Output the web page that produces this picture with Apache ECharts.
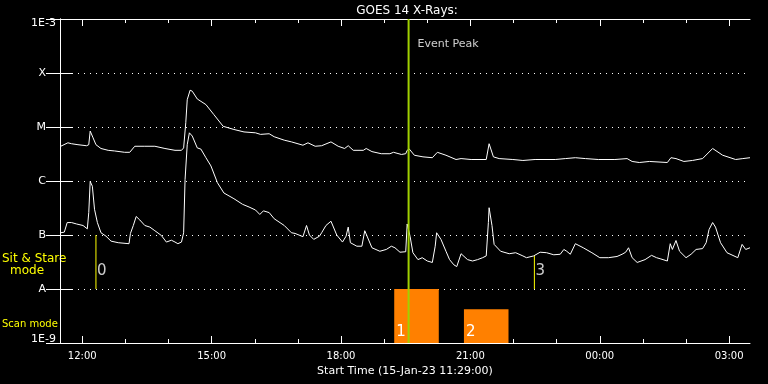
<!DOCTYPE html>
<html><head><meta charset="utf-8">
<script src="https://cdn.jsdelivr.net/npm/echarts@6/dist/echarts.min.js"></script>
<style>html,body{margin:0;padding:0;background:#000}#c{width:768px;height:384px}</style>
</head><body><div id="c"></div>
<script>
const titleText = 'GOES 14 X-Rays:';
const xAxisTitle = 'Start Time (15-Jan-23 11:29:00)';
const startMinute = 689; // 11:29 on 15-Jan-23; times below are minutes since start

const majorTickTimes = [31, 211, 391, 571, 751, 931];
const majorTickLabels = ['12:00', '15:00', '18:00', '21:00', '00:00', '03:00'];
const minorTickTimes = [31, 91, 151, 211, 271, 331, 391, 451, 511, 571, 631, 691, 751, 811, 871, 931];
const yTickLabels = ['1E-9', 'A', 'B', 'C', 'M', 'X', '1E-3'];

// GOES long channel (upper curve), flux W/m^2
const upperTimes = [1,11,16,25,37,40,42,46,50,57,
  67,76,90,97,104,118,132,146,160,169,
  172,175,177,181,184,191,203,214,227,242,
  256,272,279,291,298,312,322,338,345,355,
  364,377,387,396,401,408,422,426,434,447,
  459,464,475,481,483,486,493,505,518,525,
  537,551,558,572,593,597,603,611,630,644,
  661,689,703,717,731,749,772,789,796,806,
  820,845,850,857,868,880,894,908,922,940,
  950,960];
const upperFlux = [4.4e-6,5.1e-6,4.9e-6,4.7e-6,4.5e-6,4.7e-6,8.4e-6,6.3e-6,4.7e-6,4.0e-6,
  3.7e-6,3.6e-6,3.4e-6,3.4e-6,4.4e-6,4.4e-6,4.4e-6,4.0e-6,3.7e-6,3.7e-6,
  4.1e-6,1.2e-5,3.2e-5,4.8e-5,4.6e-5,3.3e-5,2.6e-5,1.7e-5,1.03e-5,9.0e-6,
  8.1e-6,7.8e-6,7.3e-6,7.5e-6,6.6e-6,5.7e-6,5.3e-6,4.6e-6,5.1e-6,4.4e-6,
  4.5e-6,5.3e-6,4.4e-6,4.0e-6,4.5e-6,3.7e-6,3.7e-6,4.0e-6,3.5e-6,3.2e-6,
  3.2e-6,3.4e-6,3.1e-6,3.2e-6,3.7e-6,3.9e-6,3.0e-6,2.8e-6,2.7e-6,3.4e-6,
  3.0e-6,2.5e-6,2.6e-6,2.5e-6,2.5e-6,4.9e-6,2.8e-6,2.6e-6,2.5e-6,2.4e-6,
  2.5e-6,2.5e-6,2.6e-6,2.7e-6,2.6e-6,2.5e-6,2.5e-6,2.6e-6,2.3e-6,2.2e-6,
  2.3e-6,2.2e-6,2.7e-6,2.6e-6,2.3e-6,2.4e-6,2.6e-6,4.0e-6,3.0e-6,2.5e-6,
  2.6e-6,2.7e-6];

// GOES short channel (lower curve), flux W/m^2
const lowerTimes = [1,6,10,16,23,32,38,40,42,45,
  48,52,57,64,71,81,96,98,102,106,
  111,118,125,132,141,148,155,160,164,169,
  172,174,177,180,184,191,196,203,210,219,
  228,242,254,263,272,278,283,291,298,312,
  322,327,338,343,347,353,361,364,370,377,
  385,393,398,401,404,413,420,424,434,445,
  454,461,466,473,481,483,484,487,491,498,
  504,511,518,522,524,530,537,542,548,552,
  558,567,574,581,588,593,596,597,601,604,
  613,625,634,644,649,659,668,677,687,696,
  701,705,710,717,728,740,751,763,775,782,
  787,791,796,803,814,823,830,836,845,849,
  852,857,862,871,878,885,894,899,903,908,
  912,919,928,943,949,954,960];
const lowerFlux = [1.1e-7,1.13e-7,1.7e-7,1.7e-7,1.6e-7,1.5e-7,1.3e-7,2.6e-7,9.8e-7,8.0e-7,
  3.0e-7,1.7e-7,1.1e-7,9.5e-8,7.7e-8,7.2e-8,6.9e-8,1.07e-7,1.5e-7,2.2e-7,
  1.9e-7,1.5e-7,1.4e-7,1.2e-7,9.8e-8,7.4e-8,8.0e-8,7.4e-8,6.9e-8,7.4e-8,
  1.1e-7,1.07e-6,4.7e-6,7.8e-6,6.8e-6,4.1e-6,3.9e-6,2.7e-6,1.9e-6,9.3e-7,
  6.0e-7,4.7e-7,3.7e-7,3.3e-7,2.9e-7,2.4e-7,2.8e-7,2.6e-7,2.0e-7,1.5e-7,
  1.1e-7,1.07e-7,9.3e-8,1.5e-7,1.0e-7,8.3e-8,9.5e-8,1.1e-7,1.5e-7,1.8e-7,
  1.0e-7,7.4e-8,9.5e-8,1.4e-7,7.2e-8,6.2e-8,6.2e-8,1.2e-7,5.8e-8,5.0e-8,
  5.4e-8,6.2e-8,5.8e-8,4.8e-8,4.9e-8,1.6e-7,1.55e-7,9.5e-8,4.7e-8,3.5e-8,
  3.8e-8,3.3e-8,3.1e-8,6.2e-8,1.1e-7,8.3e-8,5.0e-8,3.5e-8,2.8e-8,2.6e-8,
  4.5e-8,3.5e-8,3.3e-8,3.5e-8,3.8e-8,4.1e-8,1.7e-7,3.2e-7,1.5e-7,6.7e-8,
  5.0e-8,4.5e-8,4.7e-8,4.1e-8,3.8e-8,4.1e-8,4.8e-8,4.7e-8,4.3e-8,4.4e-8,
  5.4e-8,5.0e-8,4.4e-8,6.9e-8,5.8e-8,4.7e-8,3.8e-8,3.8e-8,4.0e-8,4.4e-8,
  4.8e-8,5.8e-8,3.8e-8,3.1e-8,3.5e-8,4.2e-8,3.8e-8,3.6e-8,3.3e-8,6.9e-8,
  5.4e-8,7.9e-8,5.0e-8,3.8e-8,4.4e-8,5.4e-8,5.6e-8,7.2e-8,1.26e-7,1.7e-7,
  1.4e-7,7.2e-8,4.7e-8,3.8e-8,6.7e-8,5.4e-8,5.8e-8];

// Annotations
const eventPeakTime = 485;
const eventPeakLabel = 'Event Peak';
const eventPeakLabelFlux = 3.4e-4;
const sitStareTimes = [50, 660];
const sitStareTops = [1e-7, 4.1e-8];
const sitStareBottom = 1e-8;
const sitStareLabels = ['0', '3'];
const sitStareLabelFlux = 2.1e-8;
const scanStarts = [465, 562];
const scanEnds = [527, 624];
const scanTops = [1e-8, 4.2e-9];
const scanBottom = 1e-9;
const scanLabels = ['1', '2'];

const FONT = 'DejaVu Sans';
const WHITE = '#ffffff';
const YELLOW = '#ffff00';
const GREEN = '#a0d000';
const ORANGE = '#ff8000';

const xRange = {type: 'value', min: 0, max: 960, splitLine: {show: false}};
function xLabel(v) {
  const i = majorTickTimes.indexOf(v);
  if (i >= 0) return majorTickLabels[i];
  const t = (startMinute + v) % 1440;
  return String(Math.floor(t / 60)).padStart(2, '0') + ':' + String(Math.round(t % 60)).padStart(2, '0');
}
function yLabel(v) {
  const i = Math.round(Math.log10(v)) + 9;
  const s = yTickLabels[i];
  if (i === 6) return '{top|' + s + '}';
  if (i === 0) return '{bot|' + s + '}';
  return '{let|' + s + '}';
}

const chart = echarts.init(document.getElementById('c'), null, {renderer: 'canvas', width: 768, height: 384});
chart.setOption({
  animation: false,
  backgroundColor: '#000000',
  title: {
    text: titleText, left: 402, top: 0, textAlign: 'center',
    textStyle: {color: WHITE, fontSize: 12, fontWeight: 'normal', fontFamily: FONT}
  },
  grid: {left: 60, right: 18, top: 19, bottom: 41, containLabel: false},
  xAxis: [
    Object.assign({}, xRange, {
      position: 'bottom',
      axisLine: {show: true, lineStyle: {color: WHITE, width: 1}},
      axisTick: {show: true, inside: true, length: 7, customValues: majorTickTimes, lineStyle: {color: WHITE}},
      axisLabel: {show: true, customValues: majorTickTimes, formatter: xLabel, color: WHITE, fontSize: 10, margin: 8, fontFamily: FONT},
      name: xAxisTitle, nameLocation: 'middle', nameGap: 21,
      nameTextStyle: {color: WHITE, fontSize: 11, fontFamily: FONT}
    }),
    Object.assign({}, xRange, {
      position: 'bottom',
      axisLine: {show: false},
      axisTick: {show: true, inside: true, length: 4, customValues: minorTickTimes, lineStyle: {color: WHITE}},
      axisLabel: {show: false}
    }),
    Object.assign({}, xRange, {
      position: 'top',
      axisLine: {show: true, lineStyle: {color: WHITE, width: 1}},
      axisTick: {show: true, inside: true, length: 7, customValues: majorTickTimes, lineStyle: {color: WHITE}},
      axisLabel: {show: false}
    }),
    Object.assign({}, xRange, {
      position: 'top',
      axisLine: {show: false},
      axisTick: {show: true, inside: true, length: 4, customValues: minorTickTimes, lineStyle: {color: WHITE}},
      axisLabel: {show: false}
    })
  ],
  yAxis: [
    {
      type: 'log', logBase: 10, min: 1e-9, max: 1e-3, position: 'left',
      axisLine: {show: true, lineStyle: {color: WHITE, width: 1}},
      axisTick: {show: true, inside: true, length: 13, lineStyle: {color: WHITE}},
      axisLabel: {
        show: true, formatter: yLabel, margin: 4, color: WHITE, fontSize: 11, fontFamily: FONT,
        rich: {
          top: {color: WHITE, fontSize: 11, fontFamily: FONT, padding: [8, 0, 0, 0]},
          bot: {color: WHITE, fontSize: 11, fontFamily: FONT, padding: [0, 0, 8, 0]},
          let: {color: WHITE, fontSize: 11, fontFamily: FONT, padding: [0, 10, 0, 0]}
        }
      },
      splitLine: {show: true, lineStyle: {color: WHITE, width: 1, type: [1, 5]}}
    },
    {
      type: 'log', logBase: 10, min: 1e-9, max: 1e-3, position: 'right',
      axisLine: {show: true, lineStyle: {color: WHITE, width: 1}},
      axisTick: {show: true, inside: true, length: 14, lineStyle: {color: WHITE}},
      axisLabel: {show: false},
      splitLine: {show: false}
    }
  ],
  graphic: [
    {type: 'text', left: 2, top: 253, style: {text: 'Sit & Stare', fill: YELLOW, font: '12px "DejaVu Sans"'}},
    {type: 'text', left: 10, top: 265, style: {text: 'mode', fill: YELLOW, font: '12px "DejaVu Sans"'}},
    {type: 'text', left: 2, top: 319, style: {text: 'Scan mode', fill: YELLOW, font: '10px "DejaVu Sans"'}}
  ],
  series: [
    {
      name: 'scan', type: 'custom', xAxisIndex: 0, yAxisIndex: 0, z: 1,
      data: scanStarts.map((s, i) => [s, scanEnds[i], scanTops[i], scanBottom]),
      encode: {x: [0, 1], y: [2, 3]},
      renderItem: function (params, api) {
        const p0 = api.coord([api.value(0), api.value(2)]);
        const p1 = api.coord([api.value(1), api.value(3)]);
        return {
          type: 'group',
          children: [
            {type: 'rect', shape: {x: p0[0], y: p0[1], width: p1[0] - p0[0], height: p1[1] - p0[1]}, style: {fill: ORANGE}},
            {type: 'text', x: p0[0] + 2, y: p1[1] - 3, style: {text: scanLabels[params.dataIndex], fill: WHITE, font: '15px "DejaVu Sans"', verticalAlign: 'bottom', align: 'left'}}
          ]
        };
      }
    },
    {
      name: 'long', type: 'line', xAxisIndex: 0, yAxisIndex: 0, z: 2,
      data: upperTimes.map((t, i) => [t, upperFlux[i]]),
      symbol: 'none', lineStyle: {color: WHITE, width: 1}
    },
    {
      name: 'short', type: 'line', xAxisIndex: 0, yAxisIndex: 0, z: 2,
      data: lowerTimes.map((t, i) => [t, lowerFlux[i]]),
      symbol: 'none', lineStyle: {color: WHITE, width: 1}
    },
    ...sitStareTimes.map((t, i) => ({
      name: 'sit' + i, type: 'line', xAxisIndex: 0, yAxisIndex: 0, z: 3,
      data: [[t, sitStareTops[i]], [t, sitStareBottom]],
      symbol: 'none', lineStyle: {color: YELLOW, width: 1}
    })),
    {
      name: 'peak', type: 'line', xAxisIndex: 0, yAxisIndex: 0, z: 4,
      data: [[eventPeakTime, 1e-9], [eventPeakTime, 1e-3]],
      symbol: 'none', lineStyle: {color: GREEN, width: 2}
    },
    {
      name: 'labels', type: 'scatter', xAxisIndex: 0, yAxisIndex: 0, z: 5,
      symbolSize: 0,
      data: [
        {value: [eventPeakTime, eventPeakLabelFlux], label: {formatter: eventPeakLabel, fontSize: 11, distance: 9}},
        ...sitStareTimes.map((t, i) => ({value: [t, sitStareLabelFlux], label: {formatter: sitStareLabels[i], fontSize: 15, distance: 1}}))
      ],
      label: {show: true, position: 'right', color: WHITE, fontFamily: FONT}
    }
  ]
});
</script></body></html>
